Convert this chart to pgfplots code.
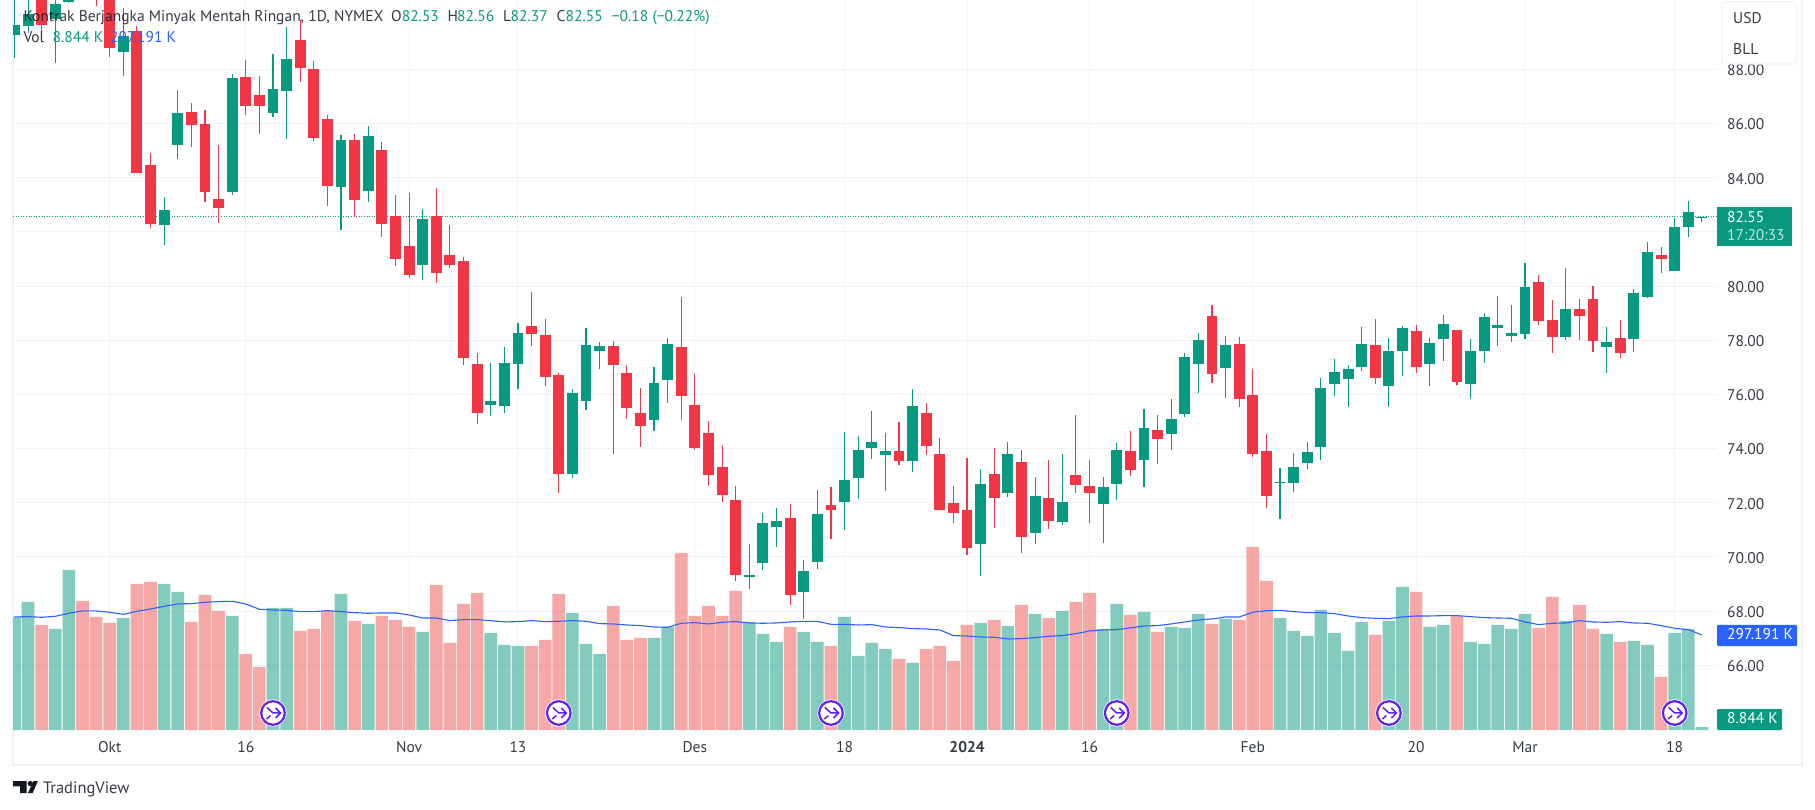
\documentclass[border=0pt]{standalone}
\usepackage{fontspec}
\setmainfont{PT Sans}
\usepackage{pgfplots}
\usepackage{pgfplotstable}
\pgfplotsset{compat=1.18}
\definecolor{tvred}{HTML}{F23645}
\definecolor{tvteal}{HTML}{089981}
\definecolor{volred}{HTML}{EF5350}
\definecolor{tvgrid}{HTML}{F0F3FA}
\definecolor{tvblue}{HTML}{2962FF}
\definecolor{tvtext}{HTML}{131722}
\definecolor{tvicon}{HTML}{6020F0}
\pgfdeclareplotmark{splitmark}{%
  \pgfsetfillcolor{white}\pgfsetstrokecolor{tvicon}%
  \pgfpathcircle{\pgfpointorigin}{13.6pt}\pgfusepath{fill}%
  \pgfsetlinewidth{2.2pt}%
  \pgfpathcircle{\pgfpointorigin}{11.8pt}\pgfusepath{stroke}%
  \pgfsetlinewidth{1.5pt}%
  \pgfpathmoveto{\pgfpoint{-6pt}{5.5pt}}\pgfpathlineto{\pgfpoint{0pt}{0pt}}\pgfpathlineto{\pgfpoint{7.5pt}{0pt}}%
  \pgfpathmoveto{\pgfpoint{2.5pt}{5pt}}\pgfpathlineto{\pgfpoint{7.5pt}{0pt}}\pgfpathlineto{\pgfpoint{2.5pt}{-5pt}}%
  \pgfpathmoveto{\pgfpoint{-6.5pt}{-6pt}}\pgfpathlineto{\pgfpoint{-2.5pt}{-2.5pt}}%
  \pgfusepath{stroke}%
}
% i open high low close volume(K)
\pgfplotstableread{
i o h l c v
0 89.27 90.80 88.41 89.64 353.6
1 89.61 90.80 89.33 90.04 400.5
3 89.86 90.90 88.22 90.41 316.0
4 90.50 91.20 90.44 90.90 500.6
8 88.65 90.25 87.75 89.23 350.4
11 82.25 83.28 81.52 82.81 456.8
12 85.21 87.24 84.70 86.39 431.8
16 83.47 87.83 83.36 87.68 356.7
19 86.39 88.57 86.24 87.27 381.7
20 87.20 89.56 85.43 88.38 381.7
24 83.66 85.58 82.07 85.39 425.5
26 83.51 85.91 83.10 85.54 331.7
30 80.78 82.84 80.22 82.48 306.6
35 75.61 77.16 75.20 75.76 303.5
36 75.57 77.75 75.31 77.16 266.0
37 77.12 78.64 76.20 78.27 262.8
41 73.06 76.20 72.91 76.05 366.1
42 75.76 78.45 75.42 77.82 269.1
43 77.60 77.94 76.94 77.79 237.8
47 75.06 77.02 74.66 76.43 287.9
48 76.54 78.09 75.69 77.87 322.3
54 69.27 70.49 68.82 69.34 337.9
55 69.76 71.63 69.53 71.26 300.4
56 71.11 71.81 70.37 71.33 275.4
58 68.71 69.89 67.72 69.49 306.6
59 69.82 72.48 69.56 71.59 275.4
61 72.04 74.62 71.00 72.85 353.6
62 72.92 74.47 72.15 73.96 231.5
63 74.03 75.39 73.62 74.25 272.2
64 73.77 74.58 72.44 73.92 253.4
66 73.55 76.21 73.14 75.58 209.6
71 70.49 73.25 69.30 72.70 334.8
73 72.37 74.25 72.22 73.81 325.4
75 70.89 72.96 70.49 72.26 363.0
77 71.30 73.81 71.19 72.04 372.4
80 71.96 72.96 70.52 72.59 316.0
81 72.70 74.21 72.11 73.96 394.3
83 73.59 75.47 72.59 74.77 369.2
85 74.55 75.84 73.96 75.10 322.3
86 75.28 77.54 75.17 77.39 319.2
87 77.13 78.27 76.06 78.02 363.0
89 76.98 78.16 75.87 77.83 347.3
93 72.74 73.29 71.41 72.78 350.4
94 72.74 73.84 72.40 73.33 309.8
95 73.48 74.25 73.25 73.88 294.1
96 74.07 76.61 73.59 76.24 375.5
97 76.39 77.31 75.95 76.83 303.5
98 76.58 77.09 75.54 76.95 247.2
99 77.02 78.50 76.87 77.87 337.9
101 76.32 78.09 75.54 77.61 341.1
102 77.61 78.53 76.69 78.46 447.4
104 77.13 78.09 76.32 77.91 322.3
105 78.05 78.94 77.24 78.61 328.5
107 76.39 78.05 75.84 77.61 275.4
108 77.61 79.01 77.17 78.87 269.1
109 78.46 79.64 77.79 78.57 328.5
110 78.16 79.31 77.94 78.27 316.0
111 78.24 80.86 78.05 79.97 363.0
114 78.13 80.68 78.02 79.16 341.1
117 77.76 78.50 76.80 77.94 300.4
119 78.05 79.90 77.58 79.75 278.5
120 79.60 81.63 79.56 81.26 266.0
122 80.56 82.51 80.56 82.18 303.5
123 82.18 83.14 81.81 82.73 316.0
124 82.53 82.56 82.37 82.55 8.844
}\upT
\pgfplotstableread{
i o h l c v
2 91.00 91.30 89.33 89.64 328.5
5 91.80 92.00 90.80 91.20 403.6
6 91.40 91.60 90.34 90.90 353.6
7 91.00 91.20 88.47 88.80 334.8
9 89.42 89.60 84.19 84.19 456.8
10 84.47 84.90 82.16 82.29 463.1
13 86.43 86.76 85.13 85.95 337.9
14 85.98 86.50 83.10 83.47 422.4
15 83.21 85.21 82.34 82.88 372.4
17 87.72 88.35 86.31 86.65 237.8
18 87.05 87.75 85.61 86.65 197.1
21 89.08 89.82 87.53 88.05 309.8
22 88.01 88.31 85.35 85.47 316.0
23 86.17 86.31 82.96 83.69 372.4
25 85.39 85.61 82.55 83.18 341.1
27 85.02 85.32 81.81 82.29 356.7
28 82.59 83.36 80.74 81.00 344.2
29 81.48 83.44 80.31 80.41 322.3
31 82.59 83.62 80.11 80.48 453.7
32 81.15 82.25 80.67 80.78 272.2
33 80.93 81.07 77.09 77.34 394.3
34 77.12 77.53 74.91 75.31 428.7
38 78.53 79.78 77.79 78.23 262.8
39 78.19 78.78 76.31 76.64 281.6
40 76.72 76.79 72.36 73.06 425.5
44 77.79 77.97 73.80 77.09 388.0
45 76.80 77.09 75.10 75.51 281.6
46 75.32 76.24 74.07 74.84 287.9
49 77.76 79.60 75.06 75.95 553.8
50 75.62 76.76 73.96 74.03 356.7
51 74.58 75.03 72.63 73.03 388.0
52 73.33 74.14 72.04 72.29 356.7
53 72.11 72.63 69.12 69.34 434.9
57 71.45 71.96 68.23 68.60 322.3
60 71.92 72.59 70.67 71.74 262.8
65 73.92 74.99 73.40 73.55 222.2
67 75.32 75.69 73.77 74.10 253.4
68 73.81 74.40 71.74 71.74 262.8
69 72.00 72.63 71.26 71.63 215.9
70 71.74 73.66 70.08 70.34 328.5
72 73.07 74.03 71.08 72.18 344.2
74 73.51 73.96 70.15 70.74 391.1
76 72.18 73.59 71.04 71.33 350.4
78 73.03 75.25 72.37 72.66 400.5
79 72.63 73.59 71.26 72.37 428.7
82 73.92 74.66 73.00 73.22 359.8
84 74.69 75.25 73.44 74.36 306.6
88 78.90 79.31 76.43 76.76 331.7
90 77.87 78.13 75.54 75.84 344.2
91 75.99 76.95 73.70 73.81 572.6
92 73.92 74.55 71.81 72.26 466.2
100 77.83 78.79 76.39 76.61 297.3
103 78.35 78.57 76.80 77.02 431.8
106 78.39 78.39 76.36 76.47 356.7
112 80.16 80.42 78.57 78.72 319.2
113 78.75 79.49 77.54 78.13 416.2
115 79.16 79.53 78.02 78.90 391.1
116 79.53 80.01 77.58 77.98 316.0
118 78.09 78.75 77.36 77.54 275.4
121 81.15 81.44 80.48 81.00 165.8
}\downT
\pgfplotstableread{
i ma
0 353.6
1 354.6
2 352.5
3 355.7
4 365.1
5 372.4
6 372.4
7 368.2
8 361.9
9 371.3
10 378.6
11 386.9
12 394.3
13 395.3
14 399.5
15 401.6
16 402.6
17 394.3
18 377.6
19 375.5
20 374.4
21 370.3
22 370.3
23 373.4
24 370.3
25 367.1
26 365.1
27 366.1
28 366.1
29 359.8
30 350.4
31 350.4
32 342.1
33 345.2
34 345.2
35 342.1
36 337.9
37 339.0
38 342.1
39 339.0
40 340.0
41 342.1
42 340.0
43 332.7
44 331.7
45 328.5
46 326.5
47 322.3
48 321.2
49 333.8
50 335.8
51 331.7
52 336.9
53 339.0
54 334.8
55 333.8
56 334.8
57 337.9
58 340.0
59 340.0
60 330.6
61 330.6
62 328.5
63 329.6
64 322.3
65 320.2
66 317.1
67 316.0
68 312.9
69 295.2
70 294.1
71 291.0
72 290.0
73 284.7
74 285.8
75 288.9
76 293.1
77 295.2
78 301.4
79 309.8
80 312.9
81 313.9
82 319.2
83 325.4
84 326.5
85 331.7
86 337.9
87 344.2
88 347.3
89 353.6
90 353.6
91 368.2
92 373.4
93 374.4
94 370.3
95 367.1
96 367.1
97 364.0
98 356.7
99 351.5
100 349.4
101 348.4
102 353.6
103 356.7
104 356.7
105 357.7
106 357.7
107 354.6
108 351.5
109 350.4
110 349.4
111 337.9
112 329.6
113 333.8
114 334.8
115 342.1
116 337.9
117 336.9
118 339.0
119 334.8
120 333.8
121 326.5
122 318.1
123 313.9
124 297.191
}\maT
\pgfplotsset{
  tvpane/.style={
    at={(13pt,79pt)}, anchor=south west,
    scale only axis, width=1704pt, height=730pt,
    xmin=-0.106, xmax=125.11,
  },
  candle body/.style={
    draw=none, no marks, forget plot,
    error bars/.cd, y dir=plus, y explicit, error mark=none,
    error bar style={line width=10.9pt, color=#1},
  },
  candle wick/.style={
    draw=none, no marks, forget plot,
    error bars/.cd, y dir=plus, y explicit, error mark=none,
    error bar style={line width=1.1pt, color=#1},
  },
}
\begin{document}
\begin{tikzpicture}[x=1pt,y=1pt]
\useasboundingbox (0,0) rectangle (1815,809);
\fill[white] (0,0) rectangle (1815,809);
% frame
\draw[tvgrid,line width=1.8pt] (13,809) -- (13,44) -- (1802,44) -- (1802,809);
% price scale and grid
\begin{axis}[tvpane,
  ymin=63.61, ymax=90.56,
  axis line style={draw=none},
  grid=major, grid style={line width=1pt, draw=tvgrid},
  major tick length=0pt,
  ytick={66,68,70,72,74,76,78,80,82,84,86,88},
  yticklabels={66.00,68.00,70.00,72.00,74.00,76.00,78.00,80.00,,84.00,86.00,88.00},
  ytick pos=right,
  xtick={7,17,29,37,50,61,70,79,91,103,111,122},
  xticklabels={Okt,16,Nov,13,Des,18,\textbf{2024},16,Feb,20,Mar,18},
  xtick pos=bottom,
  yticklabel style={inner sep=0pt, anchor=west, xshift=10pt, yshift=-1pt, font=\fontsize{15.5}{15.5}\selectfont, text=tvtext!85!white},
  xticklabel style={inner sep=0pt, anchor=base, yshift=-22pt, font=\fontsize{15.5}{15.5}\selectfont, text=tvtext!85!white},
]
\addplot[tvteal, line width=1pt, dash pattern=on 1pt off 1.6pt, forget plot] coordinates {(-0.106,82.55) (125.11,82.55)};
\end{axis}
% volume
\begin{axis}[tvpane, hide axis, ymin=0, ymax=2283.4]
\addplot[ybar, bar width=12.7pt, bar shift=0pt, fill=tvteal, fill opacity=0.5, draw=none, forget plot] table[x=i,y=v] {\upT};
\addplot[ybar, bar width=12.7pt, bar shift=0pt, fill=volred, fill opacity=0.5, draw=none, forget plot] table[x=i,y=v] {\downT};
\addplot[tvblue, line width=1.1pt, forget plot] table[x=i,y=ma] {\maT};
\addplot[only marks, mark=splitmark, forget plot] coordinates {(19,53.2) (40,53.2) (60,53.2) (81,53.2) (101,53.2) (122,53.2)};
\end{axis}
% candles
\begin{axis}[tvpane, hide axis, ymin=63.61, ymax=90.56]
\addplot[candle wick=tvteal] table[x=i,y=l,y error plus expr=\thisrow{h}-\thisrow{l}] {\upT};
\addplot[candle wick=tvred] table[x=i,y=l,y error plus expr=\thisrow{h}-\thisrow{l}] {\downT};
\addplot[candle body=tvteal] table[x=i,y=o,y error plus expr=\thisrow{c}-\thisrow{o}] {\upT};
\addplot[candle body=tvred] table[x=i,y=c,y error plus expr=\thisrow{o}-\thisrow{c}] {\downT};
\end{axis}
\begin{scope}[x=1pt,y=-1pt,yshift=809pt,
  lab/.style={inner sep=0pt,anchor=mid west,font=\fontsize{15.5}{15.5}\selectfont}]
% legend
\node[lab,text=tvtext,text opacity=0.85] at (23.3,19.2) {Kontrak Berjangka Minyak Mentah Ringan, 1D, NYMEX};
\node[lab,text=tvtext,text opacity=0.85] at (391,19.2) {O};
\node[lab,text=tvteal] at (401.6,19.2) {82.53};
\node[lab,text=tvtext,text opacity=0.85] at (447.5,19.2) {H};
\node[lab,text=tvteal] at (457,19.2) {82.56};
\node[lab,text=tvtext,text opacity=0.85] at (503,19.2) {L};
\node[lab,text=tvteal] at (510.5,19.2) {82.37};
\node[lab,text=tvtext,text opacity=0.85] at (556.4,19.2) {C};
\node[lab,text=tvteal] at (565.4,19.2) {82.55};
\node[lab,text=tvteal] at (611.7,19.2) {−0.18 (−0.22\%)};
\node[lab,text=tvtext,text opacity=0.85] at (23.3,40.2) {Vol};
\node[lab,text=tvteal] at (52.5,40.2) {8.844 K};
\node[lab,text=tvblue] at (110,40.2) {297.191 K};
% unit box
\draw[tvgrid,fill=white,line width=1.3pt,rounded corners=3pt] (1721.7,1.7) rectangle (1796.4,64);
\node[lab,text=tvtext!85!white] at (1733,21) {USD};
\node[lab,text=tvtext!85!white] at (1733,52) {BLL};
% last price tag
\fill[tvteal] (1717,207) rectangle (1791.8,246);
\node[lab,text=white] at (1727,220.3) {82.55};
\node[lab,text=white,text opacity=0.75] at (1727,238.3) {17:20:33};
% MA tag
\fill[tvblue,rounded corners=1pt] (1717,625) rectangle (1797,646);
\node[lab,text=white] at (1727,637) {297.191 K};
% volume tag
\fill[tvteal,rounded corners=1pt] (1717,709) rectangle (1782,730);
\node[lab,text=white] at (1727,721) {8.844 K};
% logo
\fill[tvtext] (13,781) -- (26.5,781) -- (26.5,793.2) -- (20,793.2) -- (20,786.3) -- (13,786.3) -- cycle;
\fill[tvtext] (30.3,783.6) circle (2.7);
\fill[tvtext] (33.6,781) -- (37.9,781) -- (32.6,793.2) -- (27.9,793.2) -- cycle;
\node[lab,text=tvtext!85!white,font=\fontsize{16.5}{16.5}\selectfont] at (42.8,790.5) {TradingView};
\end{scope}
\end{tikzpicture}
\end{document}
